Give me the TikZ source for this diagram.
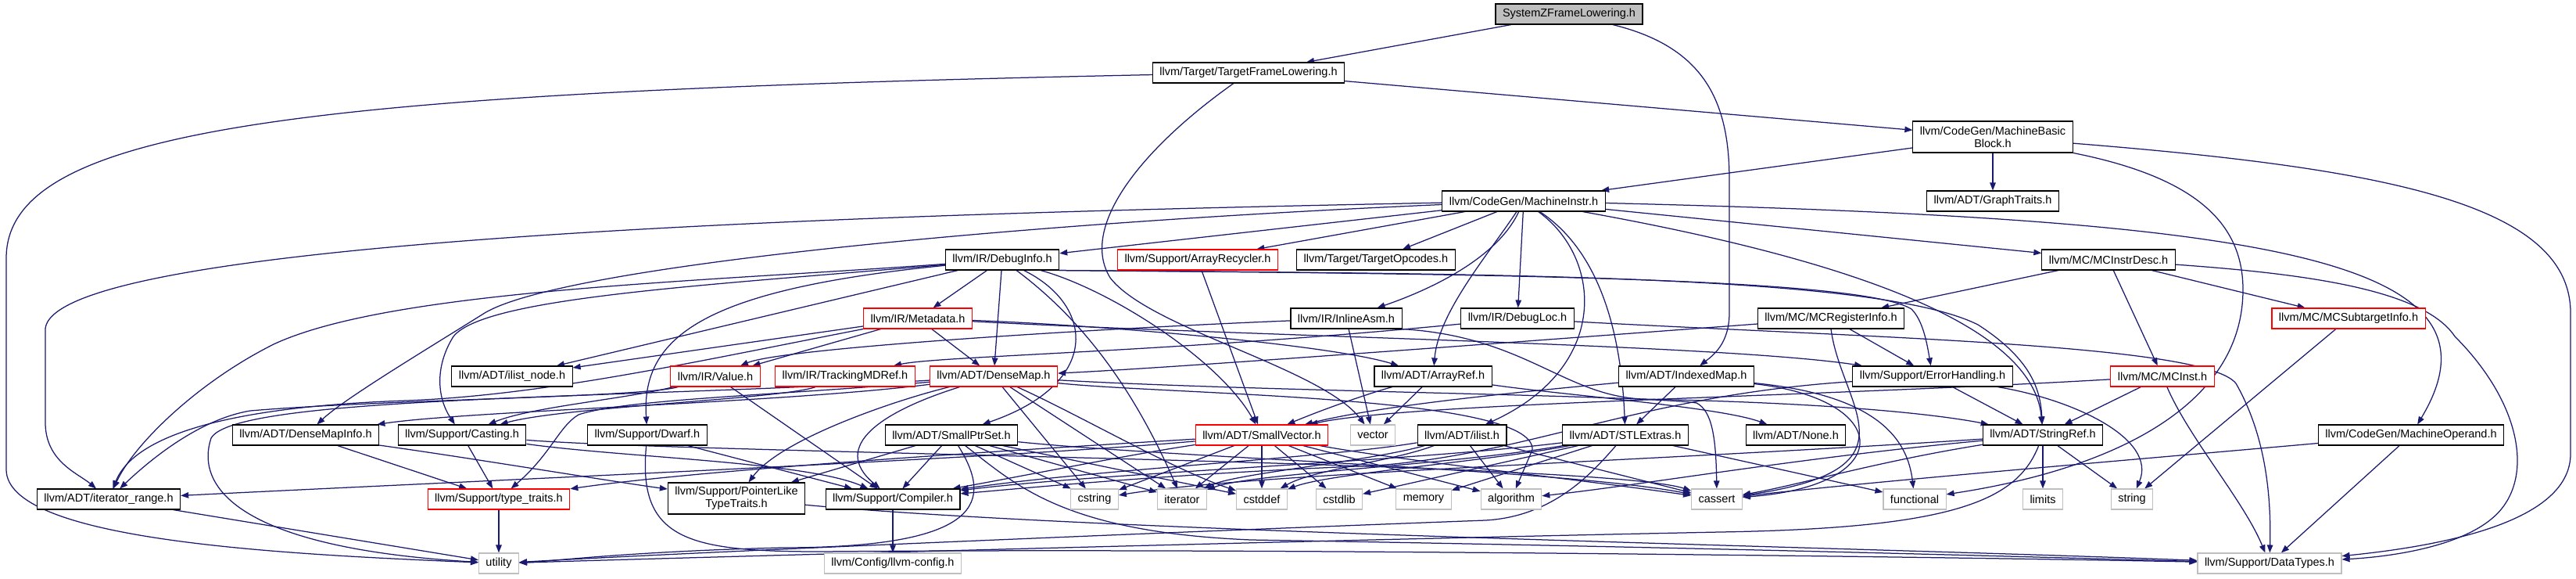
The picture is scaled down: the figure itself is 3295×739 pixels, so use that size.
\documentclass[tikz,border=0pt]{standalone}
\usepackage{fontspec}
\setsansfont{Liberation Sans}
\usetikzlibrary{arrows.meta}
\definecolor{depblue}{HTML}{191970}
\definecolor{sysgray}{HTML}{BFBFBF}
\definecolor{rootgray}{HTML}{BFBFBF}
\pgfdeclarelayer{bg}
\pgfsetlayers{bg,main}
\tikzset{
  hdr/.style={draw=black, fill=white, line width=1.1pt, minimum height=26pt, inner xsep=9pt, inner ysep=1pt, align=center, font=\sffamily\fontsize{14.5}{16}\selectfont},
  hdrtrunc/.style={hdr, draw=red},
  hdrsys/.style={hdr, draw=sysgray},
  hdrroot/.style={hdr, fill=rootgray},
  hdrtwo/.style={minimum height=40pt},
  dep/.style={draw=depblue, line width=1.25pt, -{Triangle[length=10pt,width=7.5pt]}}
}

\begin{document}
\begin{tikzpicture}[x=1pt,y=1pt]
  \useasboundingbox (0,0) rectangle (3295,-739);
  % rows of headers
  \node[hdrroot] (szfl) at (2007,-18) {SystemZFrameLowering.h};
  \node[hdr] (tfl) at (1597,-93) {llvm/Target/TargetFrameLowering.h};
  \node[hdr, hdrtwo] (mbb) at (2549,-175) {llvm/CodeGen/MachineBasic\\Block.h};
  \node[hdr] (minstr) at (1949,-257) {llvm/CodeGen/MachineInstr.h};
  \node[hdr] (graphtr) at (2549,-257) {llvm/ADT/GraphTraits.h};
  \node[hdr] (dbginfo) at (1282,-332) {llvm/IR/DebugInfo.h};
  \node[hdrtrunc] (arrrec) at (1532,-332) {llvm/Support/ArrayRecycler.h};
  \node[hdr] (tgtopc) at (1760,-332) {llvm/Target/TargetOpcodes.h};
  \node[hdr] (mcid) at (2697,-332) {llvm/MC/MCInstrDesc.h};
  \node[hdrtrunc] (metadata) at (1174,-407) {llvm/IR/Metadata.h};
  \node[hdr] (inlasm) at (1722,-407) {llvm/IR/InlineAsm.h};
  \node[hdr] (dbgloc) at (1941,-407) {llvm/IR/DebugLoc.h};
  \node[hdr] (mcreg) at (2342,-407) {llvm/MC/MCRegisterInfo.h};
  \node[hdrtrunc] (mcsub) at (3004,-407) {llvm/MC/MCSubtargetInfo.h};
  \node[hdr] (ilnode) at (655,-481) {llvm/ADT/ilist\_node.h};
  \node[hdrtrunc] (value) at (915,-481) {llvm/IR/Value.h};
  \node[hdrtrunc] (trkmd) at (1081,-481) {llvm/IR/TrackingMDRef.h};
  \node[hdrtrunc] (densemap) at (1271,-481) {llvm/ADT/DenseMap.h};
  \node[hdr] (arrref) at (1833,-481) {llvm/ADT/ArrayRef.h};
  \node[hdr] (idxmap) at (2157,-481) {llvm/ADT/IndexedMap.h};
  \node[hdr] (errh) at (2472,-481) {llvm/Support/ErrorHandling.h};
  \node[hdrtrunc] (mcinst) at (2766,-481) {llvm/MC/MCInst.h};
  \node[hdr] (dminfo) at (391,-556) {llvm/ADT/DenseMapInfo.h};
  \node[hdr] (casting) at (591,-556) {llvm/Support/Casting.h};
  \node[hdr] (dwarf) at (828,-556) {llvm/Support/Dwarf.h};
  \node[hdr] (sptrset) at (1217,-556) {llvm/ADT/SmallPtrSet.h};
  \node[hdrtrunc] (svec) at (1614,-556) {llvm/ADT/SmallVector.h};
  \node[hdrsys] (vec) at (1756,-556) {vector};
  \node[hdr] (ilist) at (1870,-556) {llvm/ADT/ilist.h};
  \node[hdr] (stlext) at (2079,-556) {llvm/ADT/STLExtras.h};
  \node[hdr] (noneh) at (2297,-556) {llvm/ADT/None.h};
  \node[hdr] (strref) at (2613,-556) {llvm/ADT/StringRef.h};
  \node[hdr] (mop) at (3084,-556) {llvm/CodeGen/MachineOperand.h};
  \node[hdr] (itrange) at (139,-638) {llvm/ADT/iterator\_range.h};
  \node[hdrtrunc] (typetr) at (638,-638) {llvm/Support/type\_traits.h};
  \node[hdr, hdrtwo] (pltt) at (942,-637) {llvm/Support/PointerLike\\TypeTraits.h};
  \node[hdr] (compiler) at (1142,-638) {llvm/Support/Compiler.h};
  \node[hdrsys] (cstr) at (1400,-638) {cstring};
  \node[hdrsys] (iter) at (1512,-638) {iterator};
  \node[hdrsys] (cdef) at (1614,-638) {cstddef};
  \node[hdrsys] (clib) at (1713,-638) {cstdlib};
  \node[hdrsys] (mem) at (1821,-638) {memory};
  \node[hdrsys] (algo) at (1933,-638) {algorithm};
  \node[hdrsys] (cas) at (2196,-638) {cassert};
  \node[hdrsys] (func) at (2449,-638) {functional};
  \node[hdrsys] (lim) at (2613,-638) {limits};
  \node[hdrsys] (str) at (2727,-638) {string};
  \node[hdrsys] (util) at (638,-720) {utility};
  \node[hdrsys] (config) at (1142,-720) {llvm/Config/llvm-config.h};
  \node[hdrsys] (datatypes) at (2903,-720) {llvm/Support/DataTypes.h};

  \begin{pgfonlayer}{bg}
  % top of the graph
  \draw[dep] (szfl) -- (tfl);
  \draw[dep] (szfl) .. controls (2180,-60) and (2212,-130) .. (2212,-230) -- (2212,-400) .. controls (2212,-440) and (2190,-455) .. (idxmap);
  \draw[dep] (tfl) -- (mbb);
  \draw[dep] (tfl) .. controls (400,-118) and (8,-160) .. (8,-330) -- (8,-600) .. controls (8,-690) and (350,-708) .. (util);
  \draw[dep] (tfl) .. controls (1460,-190) and (1380,-290) .. (1420,-355) .. controls (1470,-420) and (1690,-470) .. (vec);
  \draw[dep] (mbb) -- (minstr);
  \draw[dep] (mbb) -- (graphtr);
  \draw[dep] (mbb) .. controls (2800,-225) and (2869,-280) .. (2869,-370) .. controls (2869,-520) and (2700,-600) .. (func);
  \draw[dep] (mbb) .. controls (3050,-215) and (3288,-260) .. (3288,-400) -- (3288,-580) .. controls (3288,-660) and (3150,-695) .. (datatypes);
  % MachineInstr.h
  \draw[dep] (minstr) -- (arrrec);
  \draw[dep] (minstr) -- (tgtopc);
  \draw[dep] (minstr) -- (dbgloc);
  \draw[dep] (minstr) -- (dbginfo);
  \draw[dep] (minstr) -- (mcid);
  \draw[dep] (minstr) .. controls (1915,-330) and (1830,-370) .. (inlasm);
  \draw[dep] (minstr) .. controls (1900,-330) and (1840,-400) .. (arrref);
  \draw[dep] (minstr) .. controls (2050,-330) and (2060,-470) .. (ilist);
  \draw[dep] (minstr) .. controls (2060,-330) and (2075,-460) .. (stlext);
  \draw[dep] (minstr) .. controls (2300,-320) and (2600,-400) .. (strref);
  \draw[dep] (minstr) .. controls (2900,-280) and (3220,-330) .. (mop);
  \draw[dep] (minstr) .. controls (1200,-272) and (70,-300) .. (58,-420) -- (58,-540) .. controls (58,-590) and (100,-605) .. (itrange);
  \draw[dep] (minstr) .. controls (1300,-285) and (720,-340) .. (620,-400) .. controls (540,-450) and (440,-510) .. (dminfo);
  % DebugInfo.h and Metadata.h
  \draw[dep] (dbginfo) -- (metadata);
  \draw[dep] (dbginfo) -- (densemap);
  \draw[dep] (dbginfo) -- (ilnode);
  \draw[dep] (dbginfo) .. controls (900,-360) and (500,-370) .. (350,-440) .. controls (250,-490) and (170,-570) .. (itrange);
  \draw[dep] (dbginfo) .. controls (900,-365) and (620,-380) .. (580,-430) .. controls (555,-470) and (560,-510) .. (casting);
  \draw[dep] (dbginfo) .. controls (900,-370) and (820,-430) .. (dwarf);
  \draw[dep] (dbginfo) .. controls (1400,-390) and (1410,-490) .. (sptrset);
  \draw[dep] (dbginfo) .. controls (1420,-370) and (1560,-460) .. (svec);
  \draw[dep] (dbginfo) .. controls (1400,-420) and (1460,-520) .. (iter);
  \draw[dep] (dbginfo.south east) .. controls (1900,-350) and (2380,-355) .. (2445,-395) .. controls (2460,-410) and (2465,-440) .. (errh);
  \draw[dep] (dbginfo.south east) .. controls (1900,-350) and (2400,-350) .. (2530,-415) .. controls (2600,-460) and (2610,-500) .. (strref);
  \draw[dep] (metadata) -- (ilnode);
  \draw[dep] (metadata) -- (value);
  \draw[dep] (metadata) -- (densemap);
  \draw[dep] (metadata) .. controls (1400,-415) and (1700,-440) .. (arrref);
  \draw[dep] (metadata) .. controls (1600,-430) and (2200,-440) .. (errh);
  \draw[dep] (metadata) .. controls (900,-460) and (700,-505) .. (520,-512) .. controls (280,-520) and (170,-560) .. (itrange);
  % row of InlineAsm.h
  \draw[dep] (arrrec) -- (svec);
  \draw[dep] (inlasm) .. controls (1400,-420) and (1000,-445) .. (value);
  \draw[dep] (inlasm) -- (vec);
  \draw[dep] (inlasm.south east) .. controls (1950,-430) and (2000,-505) .. (2100,-510) .. controls (2350,-515) and (2480,-530) .. (strref);
  \draw[dep] (dbgloc) .. controls (1500,-450) and (1200,-455) .. (trkmd);
  \draw[dep] (dbgloc) .. controls (2400,-432) and (2820,-440) .. (2860,-490) .. controls (2900,-560) and (2905,-640) .. (datatypes);
  \draw[dep] (mcid) -- (mcreg);
  \draw[dep] (mcid) -- (mcinst);
  \draw[dep] (mcid) -- (mcsub);
  \draw[dep] (mcid) .. controls (2950,-350) and (3100,-370) .. (3140,-430) .. controls (3220,-510) and (3240,-600) .. (3200,-650) .. controls (3160,-700) and (3050,-712) .. (datatypes);
  \draw[dep] (mcreg) .. controls (1900,-440) and (1500,-470) .. (densemap);
  \draw[dep] (mcreg) -- (errh);
  \draw[dep] (mcreg.south) .. controls (2355,-520) and (2460,-600) .. (cas);
  \draw[dep] (mcsub) -- (str);
  % row of DenseMap.h
  \draw[dep] (value) .. controls (820,-508) and (500,-510) .. (320,-525) .. controls (260,-535) and (200,-580) .. (itrange);
  \draw[dep] (value) .. controls (800,-510) and (680,-520) .. (casting);
  \draw[dep] (value) -- (compiler);
  \draw[dep] (trkmd) .. controls (1000,-510) and (720,-520) .. (casting);
  \draw[dep] (densemap) .. controls (1000,-515) and (600,-525) .. (dminfo);
  \draw[dep] (densemap) .. controls (1130,-525) and (1060,-570) .. (compiler);
  \draw[dep] (densemap) .. controls (1150,-510) and (1000,-560) .. (pltt);
  \draw[dep] (densemap) .. controls (1000,-505) and (800,-510) .. (740,-530) .. controls (715,-545) and (705,-580) .. (typetr);
  \draw[dep] (densemap) .. controls (1500,-505) and (1965,-505) .. (1960,-575) -- (algo);
  \draw[dep] (densemap) .. controls (1600,-500) and (2100,-505) .. (2170,-515) .. controls (2190,-525) and (2195,-560) .. (cas);
  \draw[dep] (densemap) .. controls (1380,-530) and (1500,-600) .. (cdef);
  \draw[dep] (densemap) -- (cstr);
  \draw[dep] (densemap) -- (iter);
  \draw[dep] (densemap) .. controls (800,-510) and (300,-505) .. (270,-560) .. controls (250,-620) and (300,-700) .. (util);
  \draw[dep] (arrref) .. controls (2000,-505) and (2200,-520) .. (noneh);
  \draw[dep] (arrref) .. controls (1760,-500) and (1700,-520) .. (svec);
  \draw[dep] (arrref) -- (vec);
  \draw[dep] (idxmap) -- (stlext);
  \draw[dep] (idxmap) .. controls (1900,-505) and (1760,-520) .. (svec);
  \draw[dep] (idxmap) .. controls (2420,-510) and (2430,-620) .. (cas);
  \draw[dep] (idxmap) .. controls (2400,-505) and (2440,-560) .. (func);
  \draw[dep] (errh) .. controls (2100,-505) and (1960,-580) .. (1760,-595) .. controls (1500,-605) and (1300,-625) .. (compiler);
  \draw[dep] (errh) -- (strref);
  \draw[dep] (errh) .. controls (2650,-510) and (2760,-560) .. (str);
  \draw[dep] (mcinst) .. controls (2300,-508) and (1800,-515) .. (svec);
  \draw[dep] (mcinst) -- (strref);
  \draw[dep] (mcinst) .. controls (2800,-560) and (2870,-640) .. (datatypes);
  % row of SmallVector.h
  \draw[dep] (dminfo) .. controls (600,-585) and (780,-615) .. (pltt);
  \draw[dep] (dminfo) -- (typetr);
  \draw[dep] (casting) -- (typetr);
  \draw[dep] (casting) .. controls (800,-585) and (1030,-590) .. (compiler);
  \draw[dep] (casting) .. controls (900,-580) and (2050,-590) .. (cas);
  \draw[dep] (dwarf) -- (compiler);
  \draw[dep] (dwarf) .. controls (815,-690) and (880,-705) .. (1050,-705) .. controls (1600,-700) and (2500,-712) .. (datatypes);
  \draw[dep] (sptrset) -- (compiler);
  \draw[dep] (sptrset) -- (pltt);
  \draw[dep] (sptrset) -- (cstr);
  \draw[dep] (sptrset) -- (iter);
  \draw[dep] (sptrset) -- (cdef);
  \draw[dep] (sptrset) .. controls (1500,-585) and (2000,-600) .. (cas);
  \draw[dep] (sptrset) .. controls (1300,-620) and (1360,-680) .. (1600,-690) .. controls (2200,-700) and (2600,-712) .. (datatypes);
  \draw[dep] (sptrset) .. controls (1270,-640) and (1260,-700) .. (1000,-700) .. controls (800,-705) and (700,-718) .. (util);
  \draw[dep] (svec) .. controls (1300,-585) and (600,-615) .. (itrange);
  \draw[dep] (svec) .. controls (1450,-580) and (1300,-610) .. (compiler);
  \draw[dep] (svec) .. controls (1300,-575) and (900,-600) .. (typetr);
  \draw[dep] (svec) -- (algo);
  \draw[dep] (svec) .. controls (1800,-590) and (2000,-610) .. (cas);
  \draw[dep] (svec) -- (cdef);
  \draw[dep] (svec) -- (clib);
  \draw[dep] (svec) -- (cstr);
  \draw[dep] (svec) -- (iter);
  \draw[dep] (svec) -- (mem);
  \draw[dep] (ilist) .. controls (1700,-585) and (1400,-600) .. (compiler);
  \draw[dep] (ilist) -- (algo);
  \draw[dep] (ilist) -- (cas);
  \draw[dep] (ilist) .. controls (1780,-590) and (1680,-600) .. (cdef);
  \draw[dep] (ilist) .. controls (1750,-590) and (1580,-605) .. (iter);
  \draw[dep] (stlext) .. controls (1800,-590) and (1400,-605) .. (compiler);
  \draw[dep] (stlext) .. controls (1900,-590) and (1700,-605) .. (cdef);
  \draw[dep] (stlext) -- (clib);
  \draw[dep] (stlext) -- (mem);
  \draw[dep] (stlext) .. controls (1850,-595) and (1600,-605) .. (iter);
  \draw[dep] (stlext) -- (func);
  \draw[dep] (stlext) .. controls (2040,-600) and (1990,-660) .. (1900,-665) .. controls (1500,-680) and (900,-705) .. (util);
  \draw[dep] (strref) .. controls (2300,-585) and (2100,-620) .. (algo);
  \draw[dep] (strref) .. controls (2400,-590) and (2300,-620) .. (cas);
  \draw[dep] (strref) .. controls (2100,-590) and (1600,-605) .. (cstr);
  \draw[dep] (strref) -- (lim);
  \draw[dep] (strref) -- (str);
  \draw[dep] (strref) .. controls (2580,-640) and (2500,-675) .. (2200,-680) .. controls (1700,-690) and (900,-712) .. (util);
  \draw[dep] (mop) -- (datatypes);
  \draw[dep] (mop) .. controls (2700,-590) and (2400,-615) .. (cas);
  % bottom rows
  \draw[dep] (itrange) -- (util);
  \draw[dep] (typetr) -- (util);
  \draw[dep] (pltt) .. controls (1400,-680) and (2400,-700) .. (datatypes);
  \draw[dep] (compiler) -- (config);
  \end{pgfonlayer}
\end{tikzpicture}
\end{document}
